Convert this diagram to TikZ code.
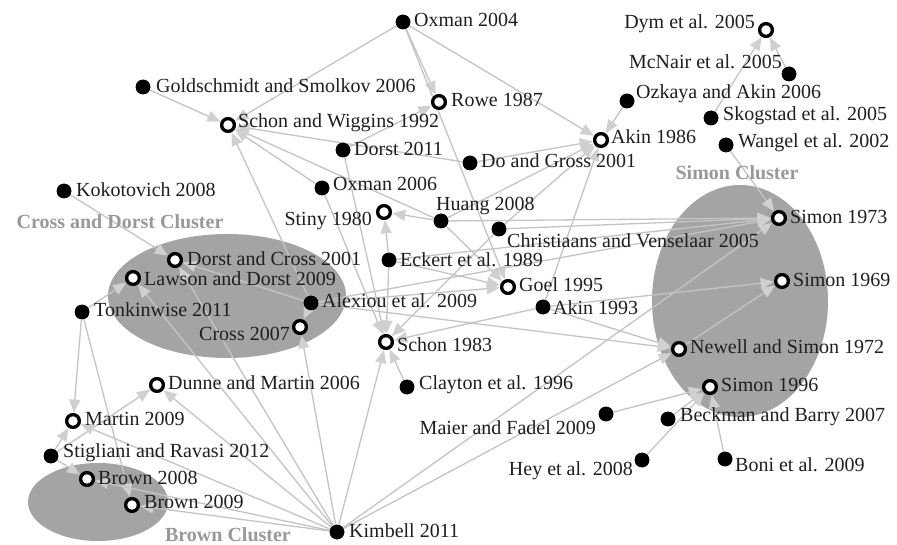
\documentclass[tikz,border=0pt]{standalone}
\usepackage{fontspec}
\setmainfont{Liberation Serif}
\usetikzlibrary{arrows.meta}
\definecolor{edgegray}{HTML}{C4C4C4}
\definecolor{headgray}{HTML}{D0D0D0}
\definecolor{clusgray}{HTML}{A4A4A4}
\definecolor{clabgray}{HTML}{999999}
\tikzset{
  dotn/.style={circle, fill=black, minimum size=14.6pt, inner sep=0pt},
  ringn/.style={circle, draw=black, line width=3.2pt, fill=white, minimum size=12.6pt, inner sep=0pt},
  lbl/.style={font=\fontsize{20}{24}\selectfont, inner sep=0pt, text=black!88},
  lw/.style={lbl, anchor=west},
  le/.style={lbl, anchor=east},
  clab/.style={font=\fontsize{20}{24}\selectfont\bfseries, inner sep=0pt, text=clabgray},
  clus/.style={fill=clusgray, draw=none},
  edge/.style={draw=edgegray, line width=1.3pt,
    -{Triangle[length=13pt,width=11pt,color=headgray]}, shorten >=0.5pt}
}
\begin{document}
\begin{tikzpicture}[x=1pt,y=-1pt]
\useasboundingbox (0,0) rectangle (897,545);
\fill[white] (0,0) rectangle (897,545);

% cluster backgrounds
\fill[clus] (227,296) ellipse [x radius=119, y radius=62];
\fill[clus] (740,301) ellipse [x radius=88, y radius=116];
\fill[clus] (98,502) ellipse [x radius=70, y radius=39];

% citing papers (filled)
\node[dotn] (ox04) at (403,22) {};
\node[dotn] (gold) at (143,87) {};
\node[dotn] (koko) at (64,191) {};
\node[dotn] (dorst11) at (343,150) {};
\node[dotn] (dogross) at (470,163) {};
\node[dotn] (ox06) at (322,188) {};
\node[dotn] (huang) at (441,221) {};
\node[dotn] (christ) at (499,229) {};
\node[dotn] (eckert) at (389,260) {};
\node[dotn] (alexiou) at (311,303) {};
\node[dotn] (tonk) at (82,312) {};
\node[dotn] (akin93) at (543,307) {};
\node[dotn] (clayton) at (407,387) {};
\node[dotn] (maier) at (606,414) {};
\node[dotn] (beckman) at (668,419) {};
\node[dotn] (hey) at (642,460) {};
\node[dotn] (boni) at (725,459) {};
\node[dotn] (stig) at (51,456) {};
\node[dotn] (kimbell) at (337,532) {};
\node[dotn] (ozkaya) at (627,101) {};
\node[dotn] (mcnair) at (789,74) {};
\node[dotn] (skog) at (711,118) {};
\node[dotn] (wangel) at (726,145) {};

% cited papers (open)
\node[ringn] (dym) at (766,30) {};
\node[ringn] (rowe) at (439,102) {};
\node[ringn] (sw) at (228,125) {};
\node[ringn] (akin86) at (601,140) {};
\node[ringn] (stiny) at (384,212) {};
\node[ringn] (dc01) at (175,260) {};
\node[ringn] (ld09) at (133,278) {};
\node[ringn] (goel) at (508,287) {};
\node[ringn] (cross07) at (300,327) {};
\node[ringn] (schon83) at (386,342) {};
\node[ringn] (dunne) at (157,385) {};
\node[ringn] (martin) at (73,421) {};
\node[ringn] (brown08) at (87,479) {};
\node[ringn] (brown09) at (132,505) {};
\node[ringn] (simon73) at (779,218) {};
\node[ringn] (simon69) at (782,281) {};
\node[ringn] (newell) at (679,349) {};
\node[ringn] (simon96) at (710,387) {};

% citation links
\foreach \a/\b in {
  ox04/sw, ox04/rowe, ox04/akin86, ox04/goel,
  gold/sw, koko/dc01, dorst11/rowe, dorst11/schon83,
  dogross/sw, dogross/akin86,
  huang/sw, huang/stiny, huang/akin86, huang/goel, huang/simon73,
  christ/akin86, christ/schon83, christ/simon73,
  eckert/stiny, eckert/goel, eckert/schon83, eckert/simon73,
  ox06/schon83, ox06/sw,
  alexiou/sw, alexiou/dc01, alexiou/cross07, alexiou/goel,
  alexiou/newell, alexiou/simon73,
  akin93/akin86, akin93/schon83, akin93/newell, akin93/simon69,
  tonk/ld09, tonk/martin, tonk/brown09,
  stig/martin, stig/dunne, stig/brown08,
  kimbell/martin, kimbell/brown08, kimbell/brown09, kimbell/dunne,
  kimbell/ld09, kimbell/dc01, kimbell/cross07, kimbell/schon83,
  kimbell/simon73, kimbell/newell,
  clayton/schon83, maier/simon96, beckman/simon96, hey/simon96,
  boni/simon96, newell/simon69, wangel/simon73,
  skog/dym, mcnair/dym, ozkaya/akin86}
  \draw[edge] (\a) -- (\b);

% redraw markers above the links
\foreach \n in {ox04,gold,koko,dorst11,dogross,ox06,huang,christ,eckert,
  alexiou,tonk,akin93,clayton,maier,beckman,hey,boni,stig,kimbell,
  ozkaya,mcnair,skog,wangel}
  \fill[black] (\n.center) circle (7.3pt);
\foreach \n in {dym,rowe,sw,akin86,stiny,dc01,ld09,goel,cross07,schon83,
  dunne,martin,brown08,brown09,simon73,simon69,newell,simon96}
  \draw[black, line width=3.2pt, fill=white] (\n.center) circle (6.3pt);

% labels
\node[lw] (ox04t) at (414,20) {Oxman 2004};
\node[lw] (goldt) at (156,86) {Goldschmidt and Smolkov 2006};
\node[lw] (kokot) at (76,190) {Kokotovich 2008};
\node[lw] (dorst11t) at (354,149) {Dorst 2011};
\node[lw] (dogrosst) at (481,161) {Do and Gross 2001};
\node[lw] (ox06t) at (333,184) {Oxman 2006};
\node[lw] (huangt) at (436,206) {Huang 2008};
\node[lw] (christt) at (507,241) {Christiaans and Venselaar 2005};
\node[lw] (eckertt) at (400,260) {Eckert et al. 1989};
\node[lw] (alexiout) at (322,301) {Alexiou et al. 2009};
\node[lw] (tonkt) at (94,310) {Tonkinwise 2011};
\node[lw] (akin93t) at (553,308) {Akin 1993};
\node[lw] (claytont) at (419,385) {Clayton et al. 1996};
\node[le] (maiert) at (596,428) {Maier and Fadel 2009};
\node[lw] (beckmant) at (680,417) {Beckman and Barry 2007};
\node[le] (heyt) at (633,471) {Hey et al. 2008};
\node[lw] (bonit) at (735,465) {Boni et al. 2009};
\node[lw] (stigt) at (63,453) {Stigliani and Ravasi 2012};
\node[lw] (kimbellt) at (349,531) {Kimbell 2011};
\node[lw] (ozkayat) at (636,94) {Ozkaya and Akin 2006};
\node[le] (mcnairt) at (782,62) {McNair et al. 2005};
\node[lw] (skogt) at (723,116) {Skogstad et al. 2005};
\node[lw] (wangelt) at (738,143) {Wangel et al. 2002};
\node[le] (dymt) at (755,24) {Dym et al. 2005};
\node[lw] (rowet) at (451,100) {Rowe 1987};
\node[lw] (swt) at (238,123) {Schon and Wiggins 1992};
\node[lw] (akin86t) at (611,137) {Akin 1986};
\node[le] (stinyt) at (372,221) {Stiny 1980};
\node[lw] (dc01t) at (187,259) {Dorst and Cross 2001};
\node[lw] (ld09t) at (144,279) {Lawson and Dorst 2009};
\node[lw] (goelt) at (519,285) {Goel 1995};
\node[le] (cross07t) at (290,334) {Cross 2007};
\node[lw] (schon83t) at (397,345) {Schon 1983};
\node[lw] (dunnet) at (168,383) {Dunne and Martin 2006};
\node[lw] (martint) at (85,419) {Martin 2009};
\node[lw] (brown08t) at (98,478) {Brown 2008};
\node[lw] (brown09t) at (144,502) {Brown 2009};
\node[lw] (simon73t) at (790,217) {Simon 1973};
\node[lw] (simon69t) at (793,280) {Simon 1969};
\node[lw] (newellt) at (690,347) {Newell and Simon 1972};
\node[lw] (simon96t) at (721,385) {Simon 1996};

% cluster titles
\node[clab] (cdc) at (120,222) {Cross and Dorst Cluster};
\node[clab] (smc) at (737,173) {Simon Cluster};
\node[clab] (brc) at (228,535) {Brown Cluster};
\end{tikzpicture}
\end{document}
